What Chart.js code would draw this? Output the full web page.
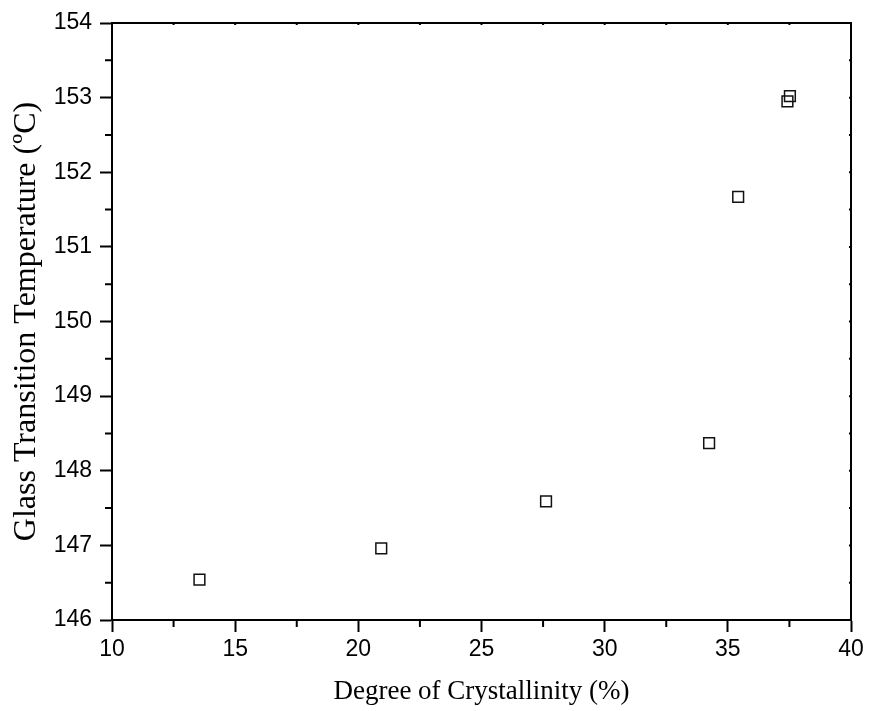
<!DOCTYPE html>
<html>
<head>
<meta charset="utf-8">
<script src="https://cdn.jsdelivr.net/npm/chart.js@4.4.1/dist/chart.umd.min.js"></script>
<style>
  html, body { margin: 0; padding: 0; background: #fff; }
  #box { width: 869px; height: 711px; position: relative; }
</style>
</head>
<body>
<div id="box"><canvas id="grafico"></canvas></div>
<script>
// dados
const cristalinidade = [13.55, 20.93, 27.62, 34.24, 35.42, 37.42, 37.52];
const tg = [146.54, 146.96, 147.59, 148.37, 151.67, 152.95, 153.02];
const xTicks = [10, 15, 20, 25, 30, 35, 40];
const yTicks = [146, 147, 148, 149, 150, 151, 152, 153, 154];

const pontos = cristalinidade.map((c, i) => ({ x: c, y: tg[i] }));

// ticks menores e moldura (topo e direita)
const moldura = {
  id: 'moldura',
  afterDraw(chart) {
    const ctx = chart.ctx;
    const a = chart.chartArea;
    const sx = chart.scales.x;
    const sy = chart.scales.y;
    ctx.save();
    ctx.strokeStyle = '#000';
    ctx.lineWidth = 2;
    ctx.beginPath();
    ctx.moveTo(a.left - 1, a.top);
    ctx.lineTo(a.right, a.top);
    ctx.lineTo(a.right, a.bottom + 1);
    ctx.stroke();

    ctx.beginPath();
    for (let i = 0; i < xTicks.length - 1; i++) {
      const px = sx.getPixelForValue((xTicks[i] + xTicks[i + 1]) / 2);
      ctx.moveTo(px, a.bottom);
      ctx.lineTo(px, a.bottom + 7);
      ctx.moveTo(px, a.top);
      ctx.lineTo(px, a.top + 2);
    }
    for (let i = 0; i < yTicks.length - 1; i++) {
      const py = sy.getPixelForValue((yTicks[i] + yTicks[i + 1]) / 2);
      ctx.moveTo(a.left, py);
      ctx.lineTo(a.left - 7, py);
      ctx.moveTo(a.right, py);
      ctx.lineTo(a.right - 2, py);
    }
    xTicks.forEach(v => {
      const px = sx.getPixelForValue(v);
      ctx.moveTo(px, a.top);
      ctx.lineTo(px, a.top + 2);
    });
    yTicks.forEach(v => {
      const py = sy.getPixelForValue(v);
      ctx.moveTo(a.right, py);
      ctx.lineTo(a.right - 2, py);
    });
    ctx.stroke();
    ctx.restore();
  }
};

const ctg = document.getElementById('grafico');

new Chart(ctg, {
  type: 'scatter',
  data: {
    datasets: [
      {
        label: 'Tg',
        data: pontos,
        pointStyle: 'rect',
        pointRadius: 7.6,
        pointBorderWidth: 1.5,
        pointBorderColor: '#111',
        pointBackgroundColor: 'rgba(255,255,255,0)',
        pointHoverRadius: 7.6
      }
    ]
  },
  options: {
    animation: false,
    responsive: true,
    maintainAspectRatio: false,
    layout: {
      padding: { top: 23, right: 18, left: 0, bottom: 0 }
    },
    plugins: {
      legend: { display: false },
      tooltip: { enabled: false }
    },
    scales: {
      x: {
        type: 'linear',
        min: 10,
        max: 40,
        afterBuildTicks(scale) { scale.ticks = xTicks.map(v => ({ value: v })); },
        afterFit(scale) { scale.height = 91; },
        border: { display: true, color: '#000', width: 2 },
        grid: { drawOnChartArea: false, drawTicks: true, tickLength: 12, tickWidth: 2, tickColor: '#000' },
        ticks: {
          color: '#000',
          padding: 4,
          maxRotation: 0,
          font: { family: 'Liberation Sans, Arial, sans-serif', size: 23 }
        },
        title: {
          display: true,
          text: 'Degree of Crystallinity (%)',
          color: '#000',
          padding: { top: 0, bottom: 3 },
          font: { family: 'Liberation Serif, Times New Roman, serif', size: 27 }
        }
      },
      y: {
        type: 'linear',
        min: 146,
        max: 154,
        afterBuildTicks(scale) { scale.ticks = yTicks.map(v => ({ value: v })); },
        afterFit(scale) { scale.width = 112; },
        border: { display: true, color: '#000', width: 2 },
        grid: { drawOnChartArea: false, drawTicks: true, tickLength: 12, tickWidth: 2, tickColor: '#000' },
        ticks: {
          color: '#000',
          padding: 8,
          font: { family: 'Liberation Sans, Arial, sans-serif', size: 23 }
        },
        title: {
          display: true,
          text: 'Glass Transition Temperature (ºC)',
          color: '#000',
          padding: { top: 7, bottom: 0 },
          font: { family: 'Liberation Serif, Times New Roman, serif', size: 32 }
        }
      }
    }
  },
  plugins: [moldura]
});
</script>
</body>
</html>
